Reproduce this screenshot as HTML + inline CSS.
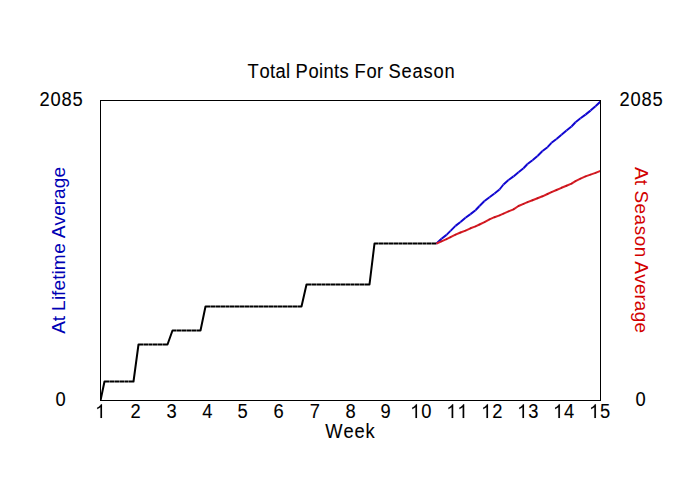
<!DOCTYPE html>
<html>
<head>
<meta charset="utf-8">
<title>Total Points For Season</title>
<style>
html,body{margin:0;padding:0;background:#fff;}
body{width:700px;height:500px;overflow:hidden;}
svg{display:block;}
text{font-family:"Liberation Sans",sans-serif;font-size:19.3px;}
</style>
</head>
<body>
<svg width="700" height="500" viewBox="0 0 700 500">
<rect x="0" y="0" width="700" height="500" fill="#ffffff"/>
<defs><clipPath id="plot"><rect x="100" y="100" width="501" height="301"/></clipPath></defs>
<g clip-path="url(#plot)">
<!-- actual -->
<polyline points="100.5,400.5 104.5,381.5 133.5,381.5 138.5,344.5 167.5,344.5 172.5,330.5 200.5,330.5 205.5,306.5 301.5,306.5 306.5,284.5 369.5,284.5 374.5,243.5 436.5,243.5" fill="none" stroke="#000" stroke-width="2" stroke-linejoin="round"/>
<path d="M109.5 380.0v3M114.5 380.0v3M119.5 380.0v3M124.5 380.0v3M128.5 380.0v3M143.5 343.0v3M148.5 343.0v3M152.5 343.0v3M157.5 343.0v3M162.5 343.0v3M176.5 329.0v3M181.5 329.0v3M186.5 329.0v3M191.5 329.0v3M196.5 329.0v3M210.5 305.0v3M215.5 305.0v3M220.5 305.0v3M225.5 305.0v3M229.5 305.0v3M234.5 305.0v3M239.5 305.0v3M244.5 305.0v3M249.5 305.0v3M253.5 305.0v3M258.5 305.0v3M263.5 305.0v3M268.5 305.0v3M273.5 305.0v3M277.5 305.0v3M282.5 305.0v3M287.5 305.0v3M292.5 305.0v3M297.5 305.0v3M311.5 283.0v3M316.5 283.0v3M321.5 283.0v3M325.5 283.0v3M330.5 283.0v3M335.5 283.0v3M340.5 283.0v3M345.5 283.0v3M350.5 283.0v3M354.5 283.0v3M359.5 283.0v3M364.5 283.0v3M378.5 242.0v3M383.5 242.0v3M388.5 242.0v3M393.5 242.0v3M398.5 242.0v3M402.5 242.0v3M407.5 242.0v3M412.5 242.0v3M417.5 242.0v3M422.5 242.0v3M426.5 242.0v3M431.5 242.0v3" stroke="#fff" stroke-opacity="0.33" stroke-width="1" fill="none"/>
<!-- projections -->
<polyline points="436.5,243.5 441.5,238.7 446.5,234.9 450.5,230.9 455.5,225.9 460.5,222.0 465.5,217.7 470.5,214.1 475.5,210.2 479.5,206.0 484.5,201.0 489.5,197.2 494.5,193.5 499.5,189.5 503.5,184.5 508.5,180.0 513.5,176.4 518.5,172.2 523.5,168.3 527.5,164.0 532.5,160.2 537.5,156.0 542.5,151.0 547.5,147.2 551.5,142.8 556.5,139.0 561.5,134.8 566.5,130.5 571.5,126.5 575.5,122.2 580.5,118.3 585.5,114.6 590.5,110.6 595.5,106.2 600.5,101.5" fill="none" stroke="#1006d0" stroke-width="2" stroke-linejoin="round"/>
<path d="M440.7 237.8l1.6 1.9M445.7 234.0l1.6 1.9M449.7 230.0l1.6 1.9M454.7 225.0l1.6 1.9M459.7 221.1l1.6 1.9M464.7 216.8l1.6 1.9M469.7 213.2l1.6 1.9M474.7 209.2l1.6 1.9M478.7 205.1l1.6 1.9M483.7 200.1l1.6 1.9M488.7 196.2l1.6 1.9M493.7 192.6l1.6 1.9M498.7 188.6l1.6 1.9M502.7 183.6l1.6 1.9M507.7 179.1l1.6 1.9M512.7 175.5l1.6 1.9M517.7 171.2l1.6 1.9M522.7 167.4l1.6 1.9M526.7 163.1l1.6 1.9M531.7 159.2l1.6 1.9M536.7 155.1l1.6 1.9M541.7 150.1l1.6 1.9M546.7 146.2l1.6 1.9M550.7 141.9l1.6 1.9M555.7 138.1l1.6 1.9M560.7 133.9l1.6 1.9M565.7 129.6l1.6 1.9M570.7 125.5l1.6 1.9M574.7 121.2l1.6 1.9M579.7 117.3l1.6 1.9M584.7 113.6l1.6 1.9M589.7 109.6l1.6 1.9M594.7 105.2l1.6 1.9" stroke="#fff" stroke-opacity="0.28" stroke-width="0.9" fill="none"/>
<polyline points="436.5,243.5 441.5,241.3 446.5,239.2 450.5,237.2 455.5,234.7 460.5,232.5 465.5,230.6 470.5,228.3 475.5,226.4 479.5,224.5 484.5,222.1 489.5,219.3 494.5,217.2 499.5,215.4 503.5,213.6 508.5,211.4 513.5,209.3 518.5,206.0 523.5,203.9 527.5,202.2 532.5,200.2 537.5,198.3 542.5,196.3 547.5,194.0 551.5,192.1 556.5,190.0 561.5,187.8 566.5,185.8 571.5,183.7 575.5,181.1 580.5,178.6 585.5,176.4 590.5,174.6 595.5,172.9 600.5,170.8" fill="none" stroke="#dc1c24" stroke-width="2" stroke-linejoin="round"/>
<path d="M441.5 241.3h0.01M446.5 239.2h0.01M450.5 237.2h0.01M455.5 234.7h0.01M460.5 232.5h0.01M465.5 230.6h0.01M470.5 228.3h0.01M475.5 226.4h0.01M479.5 224.5h0.01M484.5 222.1h0.01M489.5 219.3h0.01M494.5 217.2h0.01M499.5 215.4h0.01M503.5 213.6h0.01M508.5 211.4h0.01M513.5 209.3h0.01M518.5 206.0h0.01M523.5 203.9h0.01M527.5 202.2h0.01M532.5 200.2h0.01M537.5 198.3h0.01M542.5 196.3h0.01M547.5 194.0h0.01M551.5 192.1h0.01M556.5 190.0h0.01M561.5 187.8h0.01M566.5 185.8h0.01M571.5 183.7h0.01M575.5 181.1h0.01M580.5 178.6h0.01M585.5 176.4h0.01M590.5 174.6h0.01M595.5 172.9h0.01" stroke="#5a0008" stroke-opacity="0.32" stroke-width="1.9" stroke-linecap="round" fill="none"/>
</g>
<!-- frame -->
<rect x="100.5" y="100.5" width="500" height="300" fill="none" stroke="#000" stroke-width="1" shape-rendering="crispEdges"/>

<!-- title -->
<text transform="translate(0,78.00) scale(0.95000,1)" x="260.42 273.05 284.16 289.90 301.01 305.21 310.93 324.63 335.75 340.42 351.53 357.28 367.32 373.05 385.69 396.79 403.11 408.83 422.53 434.11 445.70 456.21 467.79" y="0" fill="#000" stroke="#000" stroke-width="0.1">Total Points For Season</text>
<!-- axis labels -->
<text transform="translate(0,106.00) scale(0.95000,1)" x="41.48 53.05 64.63 76.21" y="0" fill="#000" stroke="#000" stroke-width="0.1">2085</text>
<text transform="translate(0,106.00) scale(0.95000,1)" x="652.00 663.58 675.16 686.74" y="0" fill="#000" stroke="#000" stroke-width="0.1">2085</text>
<text transform="translate(0,406.00) scale(0.95000,1)" x="58.32" y="0" fill="#000" stroke="#000" stroke-width="0.1">0</text>
<text transform="translate(0,406.00) scale(0.95000,1)" x="668.84" y="0" fill="#000" stroke="#000" stroke-width="0.1">0</text>
<!-- x ticks -->
<path d="M763 0H583V1147Q518 1085 412.5 1023T223 930V1104Q373 1174 485 1275T644 1470H763Z" transform="translate(95.20,418.00) scale(0.008953,-0.009424)" fill="#000" stroke="#000" stroke-width="10.6"/>
<text transform="translate(0,418.00) scale(0.95000,1)" x="137.26" y="0" fill="#000" stroke="#000" stroke-width="0.1">2</text>
<text transform="translate(0,418.00) scale(0.95000,1)" x="175.16" y="0" fill="#000" stroke="#000" stroke-width="0.1">3</text>
<text transform="translate(0,418.00) scale(0.95000,1)" x="212.95" y="0" fill="#000" stroke="#000" stroke-width="0.1">4</text>
<text transform="translate(0,418.00) scale(0.95000,1)" x="249.90" y="0" fill="#000" stroke="#000" stroke-width="0.1">5</text>
<text transform="translate(0,418.00) scale(0.95000,1)" x="287.79" y="0" fill="#000" stroke="#000" stroke-width="0.1">6</text>
<text transform="translate(0,418.00) scale(0.95000,1)" x="326.00" y="0" fill="#000" stroke="#000" stroke-width="0.1">7</text>
<text transform="translate(0,418.00) scale(0.95000,1)" x="363.58" y="0" fill="#000" stroke="#000" stroke-width="0.1">8</text>
<text transform="translate(0,418.00) scale(0.95000,1)" x="400.42" y="0" fill="#000" stroke="#000" stroke-width="0.1">9</text>
<path d="M763 0H583V1147Q518 1085 412.5 1023T223 930V1104Q373 1174 485 1275T644 1470H763Z" transform="translate(410.20,418.00) scale(0.008953,-0.009424)" fill="#000" stroke="#000" stroke-width="10.6"/>
<text transform="translate(0,418.00) scale(0.95000,1)" x="443.37" y="0" fill="#000" stroke="#000" stroke-width="0.1">0</text>
<path d="M763 0H583V1147Q518 1085 412.5 1023T223 930V1104Q373 1174 485 1275T644 1470H763Z" transform="translate(446.40,418.00) scale(0.008953,-0.009424)" fill="#000" stroke="#000" stroke-width="10.6"/>
<path d="M763 0H583V1147Q518 1085 412.5 1023T223 930V1104Q373 1174 485 1275T644 1470H763Z" transform="translate(457.40,418.00) scale(0.008953,-0.009424)" fill="#000" stroke="#000" stroke-width="10.6"/>
<path d="M763 0H583V1147Q518 1085 412.5 1023T223 930V1104Q373 1174 485 1275T644 1470H763Z" transform="translate(481.20,418.00) scale(0.008953,-0.009424)" fill="#000" stroke="#000" stroke-width="10.6"/>
<text transform="translate(0,418.00) scale(0.95000,1)" x="518.11" y="0" fill="#000" stroke="#000" stroke-width="0.1">2</text>
<path d="M763 0H583V1147Q518 1085 412.5 1023T223 930V1104Q373 1174 485 1275T644 1470H763Z" transform="translate(517.20,418.00) scale(0.008953,-0.009424)" fill="#000" stroke="#000" stroke-width="10.6"/>
<text transform="translate(0,418.00) scale(0.95000,1)" x="556.00" y="0" fill="#000" stroke="#000" stroke-width="0.1">3</text>
<path d="M763 0H583V1147Q518 1085 412.5 1023T223 930V1104Q373 1174 485 1275T644 1470H763Z" transform="translate(553.10,418.00) scale(0.008953,-0.009424)" fill="#000" stroke="#000" stroke-width="10.6"/>
<text transform="translate(0,418.00) scale(0.95000,1)" x="593.79" y="0" fill="#000" stroke="#000" stroke-width="0.1">4</text>
<path d="M763 0H583V1147Q518 1085 412.5 1023T223 930V1104Q373 1174 485 1275T644 1470H763Z" transform="translate(589.10,418.00) scale(0.008953,-0.009424)" fill="#000" stroke="#000" stroke-width="10.6"/>
<text transform="translate(0,418.00) scale(0.95000,1)" x="631.69" y="0" fill="#000" stroke="#000" stroke-width="0.1">5</text>
<text transform="translate(0,438.00) scale(0.95000,1)" x="342.47 361.48 373.05 384.65" y="0" fill="#000" stroke="#000" stroke-width="0.1">Week</text>
<!-- side labels -->
<text transform="translate(65.40,333.80) rotate(-90) scale(0.98446,0.96)" x="-0.04 12.76" y="0" fill="#0000b4">At</text>
<text transform="translate(65.40,309.40) rotate(-90) scale(0.98446,0.96)" x="-1.58 9.50 13.62 19.18 30.23 35.45 39.81 56.56" y="0" fill="#0000b4">Lifetime</text>
<text transform="translate(65.40,238.20) rotate(-90) scale(0.98446,0.96)" x="-0.04 12.97 22.87 33.43 39.77 50.70 61.64" y="0" fill="#0000b4">Average</text>
<text transform="translate(635.10,167.00) rotate(90) scale(0.98446,0.96)" x="-0.04 13.06" y="0" fill="#d20000">At</text>
<text transform="translate(635.10,191.30) rotate(90) scale(0.98446,0.96)" x="-0.88 12.42 23.63 34.88 45.03 56.24" y="0" fill="#d20000">Season</text>
<text transform="translate(635.10,261.40) rotate(90) scale(0.98446,0.96)" x="-0.04 13.05 23.03 33.65 40.03 51.04 62.04" y="0" fill="#d20000">Average</text>
</svg>
</body>
</html>
